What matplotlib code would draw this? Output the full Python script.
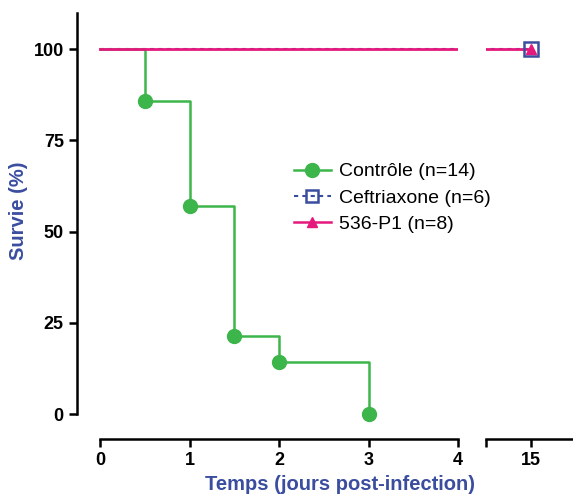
import numpy as np
import matplotlib as mpl
mpl.use('Agg')
import matplotlib.pyplot as plt
from matplotlib.lines import Line2D

plt.rc('font', family='Liberation Sans', size=12)

# Kaplan-Meier data
t_ctrl = [0, 0.5, 1.0, 1.5, 2.0, 3.0]
s_ctrl = [100, 85.7, 57.1, 21.4, 14.3, 0]
t_ceft = [0, 15]
s_ceft = [100, 100]
t_phage = [0, 15]
s_phage = [100, 100]

labels = ['Contrôle (n=14)', 'Ceftriaxone (n=6)', '536-P1 (n=8)']
green = '#3cb54a'
blue = '#3a4d9f'
pink = '#e5197d'

fig = plt.figure(figsize=(5.73, 4.97), dpi=100)
ax1 = fig.add_axes([77/573, 1-439/497, (458-77)/573, (439-13)/497])
ax2 = fig.add_axes([486/573, 1-439/497, (573-486)/573, (439-13)/497])

for ax in (ax1, ax2):
    ax.step(t_ceft, s_ceft, where='post', color=blue, lw=1.5, ls=(0, (2, 2)))
    ax.step(t_ctrl, s_ctrl, where='post', color=green, lw=1.8)
    ax.step(t_phage, s_phage, where='post', color=pink, lw=2.0)
    ax.plot(t_ctrl[1:], s_ctrl[1:], 'o', color=green, ms=10, clip_on=False)
    ax.plot(t_ceft[-1:], s_ceft[-1:], 's', mfc='none', mec=blue, mew=1.8, ms=10, clip_on=False)
    ax.plot(t_phage[-1:], s_phage[-1:], '^', color=pink, ms=7, clip_on=False)
    ax.set_ylim(-6.85, 109.9)
    ax.spines['top'].set_visible(False)
    ax.spines['right'].set_visible(False)
    ax.spines['bottom'].set_linewidth(1.8)
    ax.spines['left'].set_linewidth(1.8)
    ax.tick_params(width=1.8, length=6, labelsize=13)

ax1.set_xlim(-0.26, 4.0)
ax1.spines['bottom'].set_bounds(0, 4)
ax1.spines['left'].set_bounds(0, 109.9)
ax1.set_xticks([0, 1, 2, 3, 4])
ax1.set_yticks([0, 25, 50, 75, 100])
ax1.set_xticklabels(['0', '1', '2', '3', '4'], fontweight='bold')
ax1.set_yticklabels(['0', '25', '50', '75', '100'], fontweight='bold')

ax2.set_xlim(14.5, 15.47)
ax2.spines['left'].set_visible(False)
ax2.spines['bottom'].set_bounds(14.5, 15.47)
ax2.set_yticks([])
ax2.set_xticks([14.5, 15])
ax2.set_xticklabels(['', '15'], fontweight='bold')

fig.text(340/573, 1-484/497, 'Temps (jours post-infection)', color=blue,
         fontweight='bold', fontsize=14.5, ha='center', va='center')
fig.text(19/573, 1-211/497, 'Survie (%)', color=blue, fontweight='bold',
         fontsize=14.5, rotation=90, ha='center', va='center')

handles = [
    Line2D([], [], color=green, lw=1.8, marker='o', ms=10),
    Line2D([], [], color=blue, lw=1.5, ls=(0, (2, 2)), marker='s', mfc='none', mec=blue, mew=1.8, ms=9),
    Line2D([], [], color=pink, lw=1.8, marker='^', ms=7),
]
fig.legend(handles, labels, loc='upper left', bbox_to_anchor=(284/573, 1-153/497),
           frameon=False, fontsize=14, handlelength=1.9, handletextpad=0.45,
           labelspacing=0.45, borderpad=0)

plt.savefig('out.png', dpi=100)
